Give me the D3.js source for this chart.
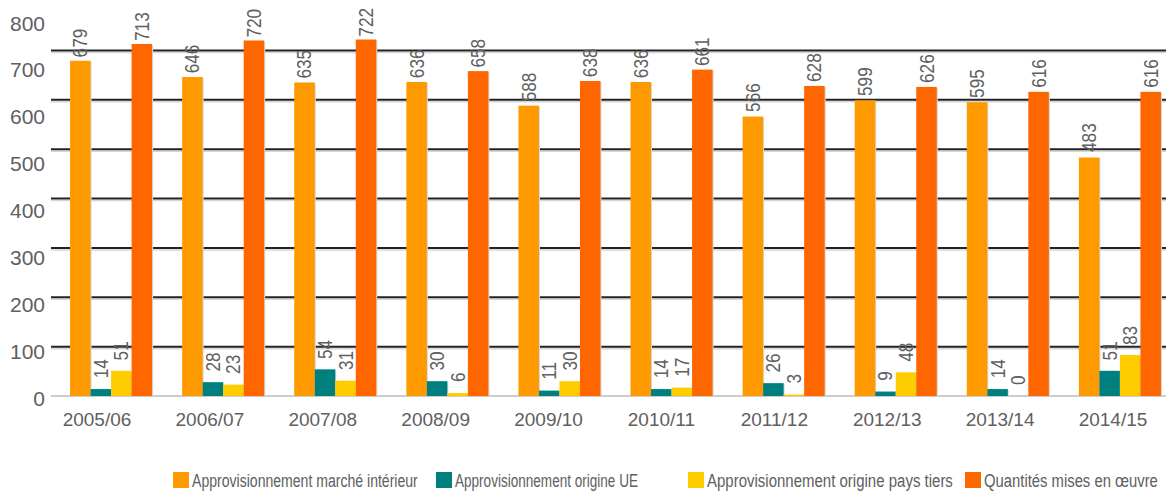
<!DOCTYPE html>
<html>
<head>
<meta charset="utf-8">
<script src="https://cdn.jsdelivr.net/npm/d3@7"></script>
<style>
  html, body { margin: 0; padding: 0; background: #fff; }
  svg { display: block; }
  text { font-family: "Liberation Sans", Arial, sans-serif; fill: #606060; }
</style>
</head>
<body>
<svg id="chart" width="1166" height="492"></svg>
<script>
const categories = ["2005/06","2006/07","2007/08","2008/09","2009/10","2010/11","2011/12","2012/13","2013/14","2014/15"];
const marcheInterieur = [679, 646, 635, 636, 588, 636, 566, 599, 595, 483];
const origineUE       = [14, 28, 54, 30, 11, 14, 26, 9, 14, 51];
const paysTiers       = [51, 23, 31, 6, 30, 17, 3, 48, 0, 83];
const misesEnOeuvre   = [713, 720, 722, 658, 638, 661, 628, 626, 616, 616];
const seriesNames  = ["Approvisionnement marché intérieur","Approvisionnement origine UE","Approvisionnement origine pays tiers","Quantités mises en œuvre"];
const seriesColors = ["#FF9900","#007F7F","#FFCC00","#FF6600"];
const yTicks = [0,100,200,300,400,500,600,700,800];
const gridTicks = [100,200,300,400,500,600,700];

const seriesValues = [marcheInterieur, origineUE, paysTiers, misesEnOeuvre];
const svg = d3.select("#chart");

const y = d3.scaleLinear().domain([0, 800]).range([396, 1]);
const yLab = d3.scaleLinear().domain([0, 800]).range([398, 23]);   // axis text positions
const yVal = d3.scaleLinear().domain([0, 800]).range([385, -1]);   // value label positions

const x0 = d3.scaleBand().domain(categories).range([51, 1180]).paddingInner(0.268).paddingOuter(0.17);
const x1 = d3.scaleBand().domain(d3.range(4)).range([0, x0.bandwidth()]);
const xLab = d3.scalePoint().domain(categories).range([97, 1113]);

// grid lines (shadow + line)
svg.append("g").selectAll("line").data(gridTicks).join("line")
  .attr("x1", 51).attr("x2", 1166)
  .attr("y1", d => y(d) + 2).attr("y2", d => y(d) + 2)
  .attr("stroke", "#d6d6d6").attr("stroke-width", 1.5);
svg.append("g").selectAll("line").data(gridTicks).join("line")
  .attr("x1", 51).attr("x2", 1166)
  .attr("y1", d => y(d)).attr("y2", d => y(d))
  .attr("stroke", "#222").attr("stroke-width", 2);
// zero line
svg.append("line").attr("x1", 51).attr("x2", 1166).attr("y1", y(0)).attr("y2", y(0))
  .attr("stroke", "#999").attr("stroke-width", 1);

// y axis labels
svg.append("g").selectAll("text").data(yTicks).join("text")
  .attr("x", 45).attr("y", d => yLab(d))
  .attr("text-anchor", "end").attr("dominant-baseline", "central")
  .attr("font-size", 21).text(d => d);

// bars
const groups = svg.append("g").selectAll("g").data(categories).join("g")
  .attr("transform", d => `translate(${x0(d)},0)`);

groups.each(function(cat, ci) {
  const g = d3.select(this);
  seriesValues.forEach((vals, si) => {
    const v = vals[ci];
    if (v > 0) {
      g.append("rect")
        .attr("x", x1(si) + 1).attr("y", y(v) + 1)
        .attr("width", x1.bandwidth()).attr("height", y(0) - y(v) - 1)
        .attr("fill", "#d8d8d8");
      g.append("rect")
        .attr("x", x1(si)).attr("y", y(v))
        .attr("width", x1.bandwidth()).attr("height", y(0) - y(v))
        .attr("fill", seriesColors[si]);
    }
    const cx = x1(si) + x1.bandwidth() / 2;
    g.append("text")
      .attr("transform", `translate(${cx + 7},${yVal(v)}) rotate(-90) scale(0.82,1)`)
      .attr("text-anchor", "start")
      .attr("font-size", 21)
      .text(v);
  });
});

// x axis labels
svg.append("g").selectAll("text").data(categories).join("text")
  .attr("x", d => xLab(d)).attr("y", 426)
  .attr("text-anchor", "middle")
  .attr("font-size", 19).text(d => d);

// legend
const legendSquares = [173, 436, 688, 965];
const legendWidths = [226, 183, 246, 174];
const lg = svg.append("g");
seriesNames.forEach((name, i) => {
  lg.append("rect").attr("x", legendSquares[i]).attr("y", 472).attr("width", 16).attr("height", 16)
    .attr("fill", seriesColors[i]);
  const t = lg.append("text").attr("font-size", 19).text(name);
  const w = t.node().getComputedTextLength();
  t.attr("transform", `translate(${legendSquares[i] + 19},487) scale(${legendWidths[i] / w},1)`);
});
</script>
</body>
</html>
